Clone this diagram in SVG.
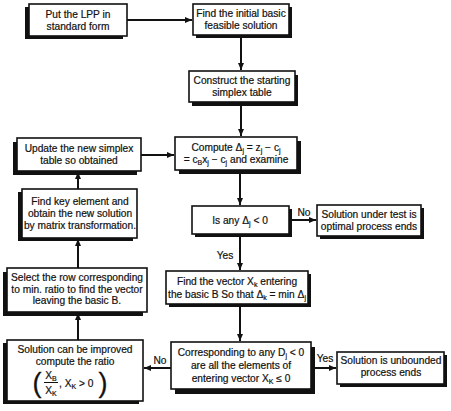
<svg xmlns="http://www.w3.org/2000/svg" width="451" height="411" viewBox="0 0 451 411">
<style>
.box{fill:#fff;stroke:#111;stroke-width:1.6}
.sh{fill:#111}
.t{font-family:"Liberation Sans",Arial,sans-serif;font-size:10.2px;fill:#111;stroke:#111;stroke-width:0.2;text-anchor:middle}
.s{font-size:7px}
.c{fill:none;stroke:#111;stroke-width:2}
</style>
<defs>
<marker id="ah" markerUnits="userSpaceOnUse" markerWidth="8" markerHeight="8" refX="7" refY="4" orient="auto">
<path d="M0,1 L7,4 L0,7 Z" fill="#111"/>
</marker>
</defs>
<rect width="451" height="411" fill="#fff"/>
<g id="connectors">
<path class="c" d="M127,20 H192" marker-end="url(#ah)"/>
<path class="c" d="M241,35 V70" marker-end="url(#ah)"/>
<path class="c" d="M241,102 V136" marker-end="url(#ah)"/>
<path class="c" d="M141,155 H174" marker-end="url(#ah)"/>
<path class="c" d="M240,170 V205" marker-end="url(#ah)"/>
<path class="c" d="M289,220 H316" marker-end="url(#ah)"/>
<path class="c" d="M240,234 V270" marker-end="url(#ah)"/>
<path class="c" d="M240,304 V341" marker-end="url(#ah)"/>
<path class="c" d="M171,368 H144" marker-end="url(#ah)"/>
<path class="c" d="M311,368 H336" marker-end="url(#ah)"/>
<path class="c" d="M78,340 V313" marker-end="url(#ah)"/>
<path class="c" d="M78,268 V239" marker-end="url(#ah)"/>
<path class="c" d="M78,189 V172" marker-end="url(#ah)"/>
<text class="t" x="304" y="216">No</text>
<text class="t" x="225" y="259">Yes</text>
<text class="t" x="160" y="364">No</text>
<text class="t" x="325" y="362">Yes</text>
</g>
<g id="n1">
<rect class="sh" x="25" y="7" width="98" height="32"/>
<rect class="box" x="29" y="4" width="98" height="32"/>
<text class="t" x="78" y="18">Put the LPP in</text>
<text class="t" x="78" y="30">standard form</text>
</g>
<g id="n2">
<rect class="sh" x="196" y="7" width="96" height="31"/>
<rect class="box" x="193" y="4" width="96" height="31"/>
<text class="t" x="241" y="17">Find the initial basic</text>
<text class="t" x="241" y="29">feasible solution</text>
</g>
<g id="n3">
<rect class="sh" x="192" y="75" width="106" height="31"/>
<rect class="box" x="189" y="71" width="106" height="31"/>
<text class="t" x="242" y="84">Construct the starting</text>
<text class="t" x="242" y="96">simplex table</text>
</g>
<g id="n4">
<rect class="sh" x="13" y="142" width="124" height="33"/>
<rect class="box" x="17" y="138" width="124" height="33"/>
<text class="t" x="79" y="152">Update the new simplex</text>
<text class="t" x="79" y="164">table so obtained</text>
</g>
<g id="n5">
<rect class="sh" x="179" y="141" width="122" height="33"/>
<rect class="box" x="175" y="137" width="122" height="33"/>
<text class="t" x="236" y="151">Compute Δ<tspan class="s" dy="2">j</tspan><tspan dy="-2"> = z</tspan><tspan class="s" dy="2">j</tspan><tspan dy="-2"> − c</tspan><tspan class="s" dy="2">j</tspan></text>
<text class="t" x="236" y="163">= c<tspan class="s" dy="2">B</tspan><tspan dy="-2">x</tspan><tspan class="s" dy="2">j</tspan><tspan dy="-2"> − c</tspan><tspan class="s" dy="2">j</tspan><tspan dy="-2"> and examine</tspan></text>
</g>
<g id="n6">
<rect class="sh" x="18" y="192" width="115" height="49"/>
<rect class="box" x="22" y="189" width="115" height="49"/>
<text class="t" x="80" y="205">Find key element and</text>
<text class="t" x="80" y="217">obtain the new solution</text>
<text class="t" x="80" y="229">by matrix transformation.</text>
</g>
<g id="n7">
<rect class="sh" x="195" y="209" width="97" height="28"/>
<rect class="box" x="192" y="206" width="97" height="28"/>
<text class="t" x="240" y="224">Is any Δ<tspan class="s" dy="2">j</tspan><tspan dy="-2"> &lt; 0</tspan></text>
</g>
<g id="n8">
<rect class="sh" x="320" y="208" width="104" height="31"/>
<rect class="box" x="317" y="205" width="104" height="31"/>
<text class="t" x="369" y="218">Solution under test is</text>
<text class="t" x="369" y="230">optimal process ends</text>
</g>
<g id="n9">
<rect class="sh" x="3" y="272" width="140" height="44"/>
<rect class="box" x="7" y="268" width="140" height="44"/>
<text class="t" x="77" y="281">Select the row corresponding</text>
<text class="t" x="77" y="292.5">to min. ratio to find the vector</text>
<text class="t" x="77" y="304">leaving the basic B.</text>
</g>
<g id="n10">
<rect class="sh" x="169" y="274" width="142" height="33"/>
<rect class="box" x="166" y="271" width="142" height="33"/>
<text class="t" x="237" y="285">Find the vector X<tspan class="s" dy="2">k</tspan><tspan dy="-2"> entering</tspan></text>
<text class="t" x="237" y="298">the basic B So that Δ<tspan class="s" dy="2">k</tspan><tspan dy="-2"> = min Δ</tspan><tspan class="s" dy="2">j</tspan></text>
</g>
<g id="n11">
<rect class="sh" x="3" y="343" width="136" height="61"/>
<rect class="box" x="7" y="340" width="136" height="61"/>
<text class="t" x="75" y="353">Solution can be improved</text>
<text class="t" x="75" y="365">compute the ratio</text>
<text class="t" x="37" y="392" style="font-size:27px;stroke-width:0.3">(</text>
<text class="t" x="51" y="379">X<tspan class="s" dy="2">B</tspan></text>
<path d="M44,382.5 H58" stroke="#111" stroke-width="1"/>
<text class="t" x="51" y="394">X<tspan class="s" dy="2">K</tspan></text>
<text class="t" x="59" y="387" style="text-anchor:start">, X<tspan class="s" dy="2">K</tspan><tspan dy="-2"> &gt; 0</tspan></text>
<text class="t" x="103" y="392" style="font-size:27px;stroke-width:0.3">)</text>
</g>
<g id="n12">
<rect class="sh" x="175" y="347" width="140" height="47"/>
<rect class="box" x="171" y="342" width="140" height="47"/>
<text class="t" x="241" y="356">Corresponding to any D<tspan class="s" dy="2">j</tspan><tspan dy="-2"> &lt; 0</tspan></text>
<text class="t" x="241" y="369">are all the elements of</text>
<text class="t" x="241" y="382">entering vector X<tspan class="s" dy="2">K</tspan><tspan dy="-2"> ≤ 0</tspan></text>
</g>
<g id="n13">
<rect class="sh" x="340" y="355" width="107" height="32"/>
<rect class="box" x="337" y="352" width="107" height="32"/>
<text class="t" x="391" y="364">Solution is unbounded</text>
<text class="t" x="391" y="376">process ends</text>
</g>
</svg>
